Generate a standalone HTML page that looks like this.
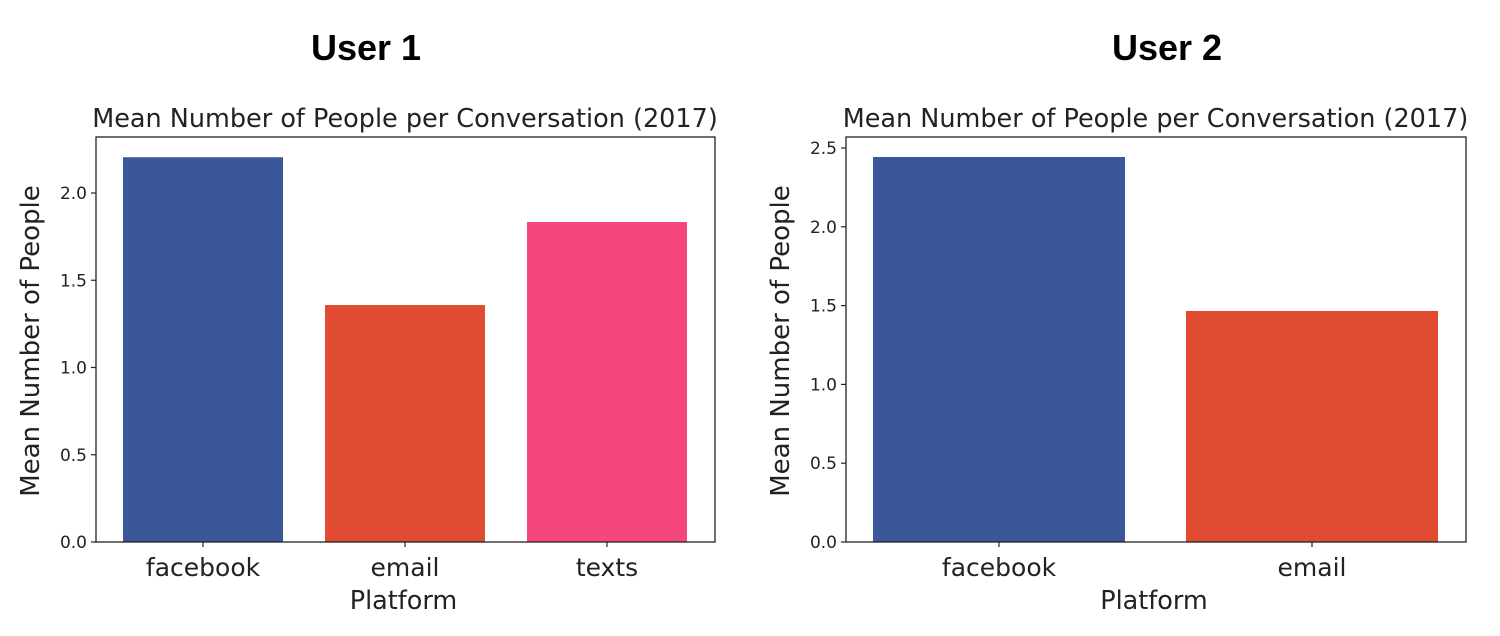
<!DOCTYPE html>
<html><head><meta charset="utf-8"><style>
body{margin:0;background:#fff;}
svg text{font-family:"DejaVu Sans","Liberation Sans",sans-serif;fill:#222;}
</style></head><body>
<svg id="s" width="1500" height="631" xmlns="http://www.w3.org/2000/svg">
<text x="366" y="60" text-anchor="middle" font-size="36" font-weight="bold" style="font-family:'Liberation Sans',sans-serif;fill:#000">User 1</text>
<text x="1167" y="60" text-anchor="middle" font-size="36" font-weight="bold" style="font-family:'Liberation Sans',sans-serif;fill:#000">User 2</text>
</svg>
<script>
const cats1=["facebook","email","texts"];
const vals1=[2.205,1.358,1.834];
const ticks1=[0,0.5,1.0,1.5,2.0];
const cats2=["facebook","email"];
const vals2=[2.443,1.466];
const ticks2=[0,0.5,1.0,1.5,2.0,2.5];
const colors=["#3a5899","#e04b32","#f5477b"];
const svg=document.getElementById('s');
const NS='http://www.w3.org/2000/svg';
function mk(t,a,p){const e=document.createElementNS(NS,t);for(const k in a)e.setAttribute(k,a[k]);(p||svg).appendChild(e);return e;}
function chart(id,left,right,top,bottom,ppu,c0,step,bw,cats,vals,ticks){
  const g=mk('g',{});
  
  
  const y=v=>bottom-v*ppu, x=i=>c0+i*step;
  cats.forEach((c,i)=>{
    const r=mk('rect',{x:x(i)-bw/2,y:y(vals[i]),width:bw,height:bottom-y(vals[i]),fill:colors[i]},g);
    
    
    mk('line',{x1:x(i),x2:x(i),y1:bottom,y2:bottom+5,stroke:'#222','stroke-width':1.2},g);
    const t=mk('text',{x:x(i),y:bottom+34,'text-anchor':'middle','font-size':25},g);t.textContent=c;
    
    
  });
  ticks.forEach(v=>{
    mk('line',{x1:left-5,x2:left,y1:y(v),y2:y(v),stroke:'#222','stroke-width':1.2},g);
    const t=mk('text',{x:left-9,y:y(v)+6,'text-anchor':'end','font-size':17},g);t.textContent=v.toFixed(1);
    
    
  });
  const f=mk('rect',{x:left,y:top,width:right-left,height:bottom-top,fill:'none',stroke:'#222','stroke-width':1.3},g);
  
  
  const tt=mk('text',{x:(left+right)/2-0.5,y:top-10,'text-anchor':'middle','font-size':25.5},g);tt.textContent='Mean Number of People per Conversation (2017)';
  
  
  const xl=mk('text',{x:(left+right)/2-2,y:bottom+67,'text-anchor':'middle','font-size':25.5},g);xl.textContent='Platform';
  
  
  const cy=341, cx=left-57;
  const yl=mk('text',{x:cx,y:cy,'text-anchor':'middle','font-size':26,transform:`rotate(-90 ${cx} ${cy})`},g);yl.textContent='Mean Number of People';
  
  
}
chart('chart-user-1',96,715,137,542,174.5,203,202,160,cats1,vals1,ticks1);
chart('chart-user-2',846,1466,137,542,157.6,999,313,252,cats2,vals2,ticks2);
</script>
</body></html>
